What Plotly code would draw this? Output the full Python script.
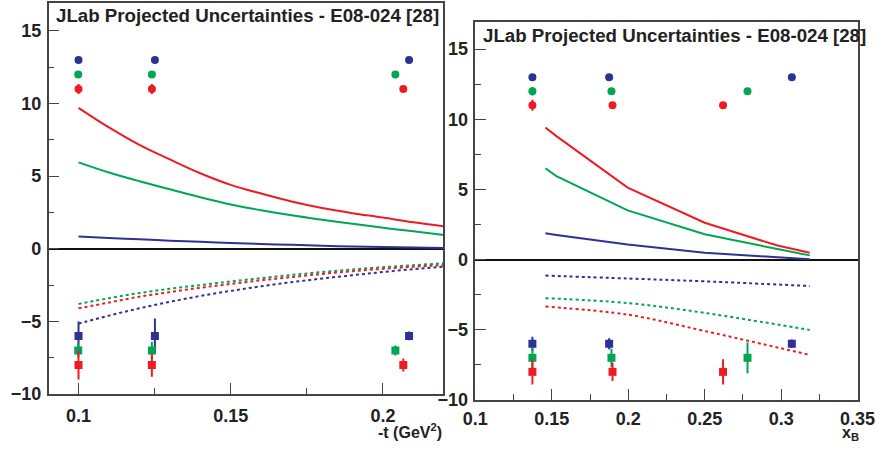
import plotly.graph_objects as go

RED = "#ed1c24"
GREEN = "#00a651"
BLUE = "#2e3192"

# ---------------- Left panel (-t) ----------------
L_blue_pts_x = [0.1, 0.1251, 0.2086]
L_green_pts_x = [0.0999, 0.1241, 0.2041]
L_red_pts_x = [0.1, 0.1241, 0.2067]
L_blue_circ_err = [0.0, 0.0, 0.0]
L_green_circ_err = [0.0, 0.0, 0.0]
L_red_circ_err = [0.35, 0.35, 0.0]
L_blue_sq_err = [1.0, 1.2, 0.3]
L_green_sq_err = [0.5, 0.6, 0.35]
L_red_sq_err = [1.0, 0.8, 0.45]

L_curve_x = [0.1, 0.11, 0.12, 0.13, 0.14, 0.15, 0.16, 0.17, 0.18, 0.19, 0.2, 0.21, 0.22]
L_red_solid = [9.7, 8.35, 7.15, 6.15, 5.2, 4.4, 3.8, 3.25, 2.8, 2.45, 2.15, 1.82, 1.55]
L_green_solid = [5.95, 5.25, 4.65, 4.1, 3.55, 3.05, 2.65, 2.3, 2.0, 1.72, 1.45, 1.2, 0.95]
L_blue_solid = [0.85, 0.75, 0.65, 0.56, 0.48, 0.4, 0.33, 0.27, 0.21, 0.16, 0.12, 0.08, 0.05]
L_green_dot = [-3.8, -3.4, -3.05, -2.75, -2.5, -2.25, -2.02, -1.8, -1.6, -1.42, -1.27, -1.13, -1.0]
L_red_dot = [-4.1, -3.7, -3.3, -2.98, -2.68, -2.42, -2.17, -1.95, -1.73, -1.55, -1.38, -1.24, -1.12]
L_blue_dot = [-5.15, -4.6, -4.1, -3.65, -3.25, -2.9, -2.58, -2.3, -2.05, -1.82, -1.6, -1.4, -1.23]

# ---------------- Right panel (xB) ----------------
R_blue_pts_x = [0.1373, 0.1875, 0.307]
R_green_pts_x = [0.1373, 0.189, 0.278]
R_red_pts_x = [0.1373, 0.1897, 0.262]
R_blue_circ_err = [0.0, 0.0, 0.0]
R_green_circ_err = [0.3, 0.0, 0.0]
R_red_circ_err = [0.4, 0.0, 0.0]
R_blue_sq_err = [0.5, 0.4, 0.3]
R_green_sq_err = [0.75, 0.65, 1.1]
R_red_sq_err = [0.9, 0.65, 0.9]

R_curve_x = [0.1458, 0.153, 0.1996, 0.25, 0.2976, 0.3187]
R_red_solid = [9.42, 8.8, 5.13, 2.63, 1.0, 0.49]
R_green_solid = [6.51, 5.95, 3.51, 1.81, 0.75, 0.3]
R_blue_solid = [1.88, 1.76, 1.07, 0.49, 0.17, 0.02]
R_dot_x = [0.1458, 0.2, 0.25, 0.3187]
R_green_dot = [-2.75, -3.1, -3.8, -5.02]
R_red_dot = [-3.35, -3.93, -5.09, -6.79]
R_blue_dot = [-1.14, -1.35, -1.55, -1.88]

CIRC_Y = {"blue": 13, "green": 12, "red": 11}
SQ_Y = {"blue": -6, "green": -7, "red": -8}

fig = go.Figure()


def add_points(xs, y, errs, color, symbol, size, xa, ya):
    fig.add_trace(go.Scatter(
        x=xs, y=[y] * len(xs), mode="markers",
        marker=dict(color=color, symbol=symbol, size=size, line=dict(width=0)),
        error_y=dict(type="data", array=errs, visible=True, color=color,
                     thickness=2, width=0),
        xaxis=xa, yaxis=ya, showlegend=False, hoverinfo="skip"))


def add_line(xs, ys, color, dash, xa, ya, shape="linear"):
    fig.add_trace(go.Scatter(
        x=xs, y=ys, mode="lines",
        line=dict(color=color, width=2, dash=dash, shape=shape),
        xaxis=xa, yaxis=ya, showlegend=False, hoverinfo="skip"))


# left curves
for ys, c in [(L_red_solid, RED), (L_green_solid, GREEN), (L_blue_solid, BLUE)]:
    add_line(L_curve_x, ys, c, "solid", "x", "y", "spline")
for ys, c in [(L_green_dot, GREEN), (L_red_dot, RED), (L_blue_dot, BLUE)]:
    add_line(L_curve_x, ys, c, "dot", "x", "y", "spline")
# left points
add_points(L_blue_pts_x, CIRC_Y["blue"], L_blue_circ_err, BLUE, "circle", 8, "x", "y")
add_points(L_green_pts_x, CIRC_Y["green"], L_green_circ_err, GREEN, "circle", 8, "x", "y")
add_points(L_red_pts_x, CIRC_Y["red"], L_red_circ_err, RED, "circle", 8, "x", "y")
add_points(L_blue_pts_x, SQ_Y["blue"], L_blue_sq_err, BLUE, "square", 8, "x", "y")
add_points(L_green_pts_x, SQ_Y["green"], L_green_sq_err, GREEN, "square", 8, "x", "y")
add_points(L_red_pts_x, SQ_Y["red"], L_red_sq_err, RED, "square", 8, "x", "y")

# right curves
for ys, c in [(R_red_solid, RED), (R_green_solid, GREEN), (R_blue_solid, BLUE)]:
    add_line(R_curve_x, ys, c, "solid", "x2", "y2")
for ys, c in [(R_green_dot, GREEN), (R_red_dot, RED), (R_blue_dot, BLUE)]:
    add_line(R_dot_x, ys, c, "dot", "x2", "y2", "spline")
# right points
add_points(R_blue_pts_x, CIRC_Y["blue"], R_blue_circ_err, BLUE, "circle", 8, "x2", "y2")
add_points(R_green_pts_x, CIRC_Y["green"], R_green_circ_err, GREEN, "circle", 8, "x2", "y2")
add_points(R_red_pts_x, CIRC_Y["red"], R_red_circ_err, RED, "circle", 8, "x2", "y2")
add_points(R_blue_pts_x, SQ_Y["blue"], R_blue_sq_err, BLUE, "square", 8, "x2", "y2")
add_points(R_green_pts_x, SQ_Y["green"], R_green_sq_err, GREEN, "square", 8, "x2", "y2")
add_points(R_red_pts_x, SQ_Y["red"], R_red_sq_err, RED, "square", 8, "x2", "y2")

FONT_FAM = "Liberation Sans, Arial, sans-serif"
TICKFONT = dict(family=FONT_FAM, size=18, color="#222222", weight="bold")
FRAME = "#444444"


def xax(domain, rng, dtick, minor_dtick, tick0, standoff):
    return dict(domain=domain, range=rng, dtick=dtick, tick0=tick0,
                ticks="inside", ticklen=11, tickcolor=FRAME, tickwidth=1,
                showline=True, linecolor=FRAME, linewidth=1.5, mirror=True,
                showgrid=False, zeroline=False, tickfont=TICKFONT,
                tickformat="~g", ticklabelstandoff=standoff,
                minor=dict(dtick=minor_dtick, tick0=tick0, ticks="inside",
                           ticklen=6, tickcolor=FRAME, showgrid=False))


def yax(domain, anchor):
    return dict(domain=domain, range=[-10, 16.92], dtick=5, tick0=0, anchor=anchor,
                ticks="inside", ticklen=11, tickcolor=FRAME, tickwidth=1,
                showline=True, linecolor=FRAME, linewidth=1.5, mirror=True,
                showgrid=False, zeroline=True, zerolinecolor="#111111",
                zerolinewidth=1.5, tickfont=TICKFONT, ticklabelstandoff=2,
                minor=dict(dtick=2.5, tick0=0, ticks="inside", ticklen=6,
                           tickcolor=FRAME, showgrid=False))


fig.update_layout(
    width=893, height=450,
    margin=dict(l=0, r=0, t=0, b=0),
    paper_bgcolor="white", plot_bgcolor="white",
    xaxis=dict(xax([0.0414, 0.4994], [0.0902, 0.2199], 0.05, 0.025, 0.1, 5), anchor="y"),
    yaxis=yax([0.1044, 0.9933], "x"),
    xaxis2=dict(xax([0.5364, 0.9798], [0.1, 0.35], 0.05, 0.025, 0.1, 2), anchor="y2"),
    yaxis2=yax([0.0911, 0.9496], "x2"),
    font=dict(family=FONT_FAM),
)

TITLE = "JLab Projected Uncertainties - E08-024 [28]"
TFONT = dict(family=FONT_FAM, size=18.7, color="#222222", weight="bold")
fig.add_annotation(text=TITLE, x=42 / 893, y=1 - 16 / 450, xref="paper", yref="paper",
                   showarrow=False, font=TFONT, xanchor="left", yanchor="middle")
fig.add_annotation(text=TITLE, x=485 / 893, y=1 - 36 / 450, xref="paper", yref="paper",
                   showarrow=False, font=TFONT, xanchor="left", yanchor="middle")
fig.add_annotation(text="-t (GeV<sup>2</sup>)", x=447 / 893, y=1 - 441 / 450,
                   xref="paper", yref="paper", showarrow=False,
                   font=dict(family=FONT_FAM, size=16, color="#222222", weight="bold"),
                   xanchor="right", yanchor="middle")
fig.add_annotation(text="x<sub>B</sub>", x=878 / 893, y=1 - 443 / 450,
                   xref="paper", yref="paper", showarrow=False,
                   font=dict(family=FONT_FAM, size=16, color="#222222", weight="bold"),
                   xanchor="right", yanchor="middle")

fig.write_html("out.html")
